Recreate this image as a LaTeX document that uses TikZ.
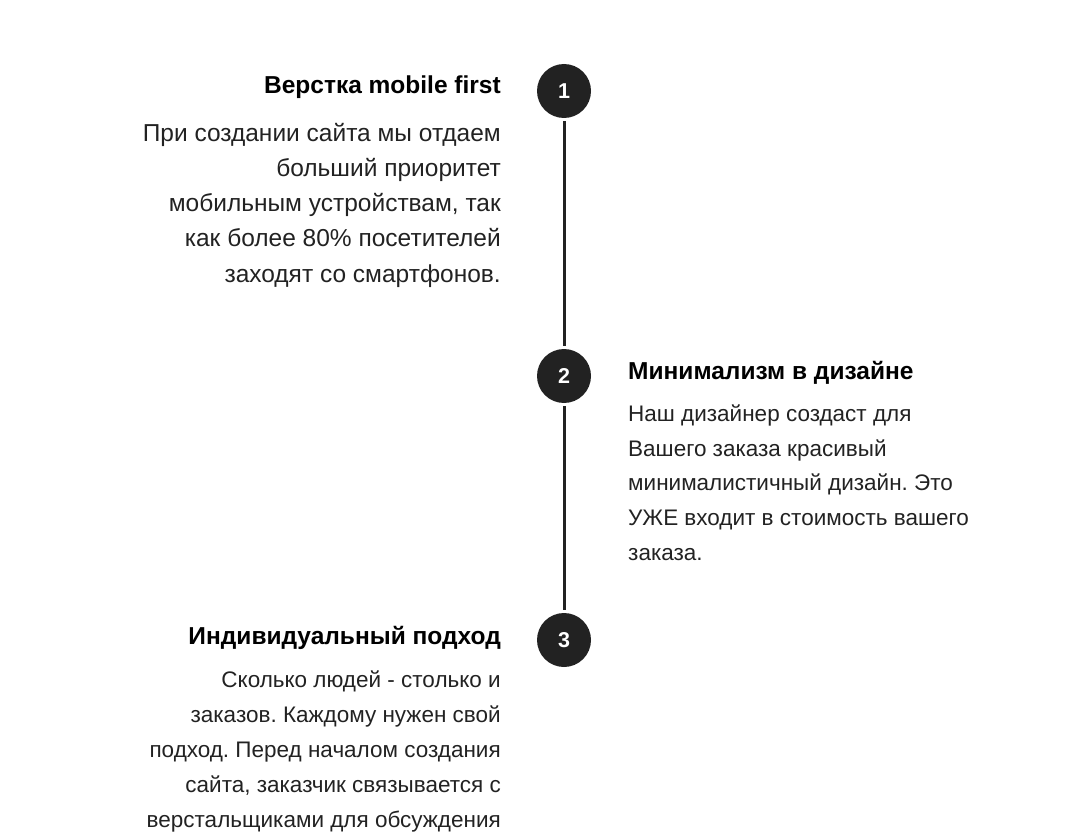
\documentclass[tikz,border=0pt]{standalone}
\usepackage{fontspec}
\setmainfont{Liberation Sans}
\definecolor{dark}{HTML}{222222}
\definecolor{bodytext}{HTML}{222222}
\begin{document}
\frenchspacing
\begin{tikzpicture}[x=1pt,y=-1pt,
  stepnum/.style={circle,fill=dark,minimum size=54pt,inner sep=0pt,text=white,font=\fontsize{21.5}{24}\selectfont\bfseries},
  ttl/.style={inner sep=0pt,font=\fontsize{24.5}{28}\selectfont\bfseries,text=black},
  bodyl/.style={inner sep=0pt,align=right,font=\fontsize{24.5}{35.2}\selectfont\frenchspacing,text=bodytext},
  bodyr/.style={inner sep=0pt,align=left,font=\fontsize{22.5}{34.6}\selectfont\frenchspacing,text=bodytext},
  bodys/.style={inner sep=0pt,align=right,font=\fontsize{22.5}{34.8}\selectfont\frenchspacing,text=bodytext},
  conn/.style={draw=dark,line width=3pt,shorten <=3pt,shorten >=3pt}]
\useasboundingbox (0,0) rectangle (1072,832);
\node[stepnum] (c1) at (564,91) {1};
\node[stepnum] (c2) at (564,376) {2};
\node[stepnum] (c3) at (564,640) {3};
\draw[conn] (c1) -- (c2);
\draw[conn] (c2) -- (c3);
\node[ttl,anchor=base east] (t1) at (501,94) {Верстка mobile first};
\node[bodyl,anchor=base east] (b1) at (501,282) {При создании сайта мы отдаем\\больший приоритет\\мобильным устройствам, так\\как более 80\% посетителей\\заходят со смартфонов.};
\node[ttl,anchor=base west] (t2) at (628,379) {Минимализм в дизайне};
\node[bodyr,anchor=base west] (b2) at (628,560) {Наш дизайнер создаст для\\Вашего заказа красивый\\минималистичный дизайн. Это\\УЖЕ входит в стоимость вашего\\заказа.};
\node[ttl,anchor=base east] (t3) at (501,644) {Индивидуальный подход};
\node[bodys,anchor=base east] (b3) at (501,827) {Сколько людей - столько и\\заказов. Каждому нужен свой\\подход. Перед началом создания\\сайта, заказчик связывается с\\верстальщиками для обсуждения};
\end{tikzpicture}
\end{document}
